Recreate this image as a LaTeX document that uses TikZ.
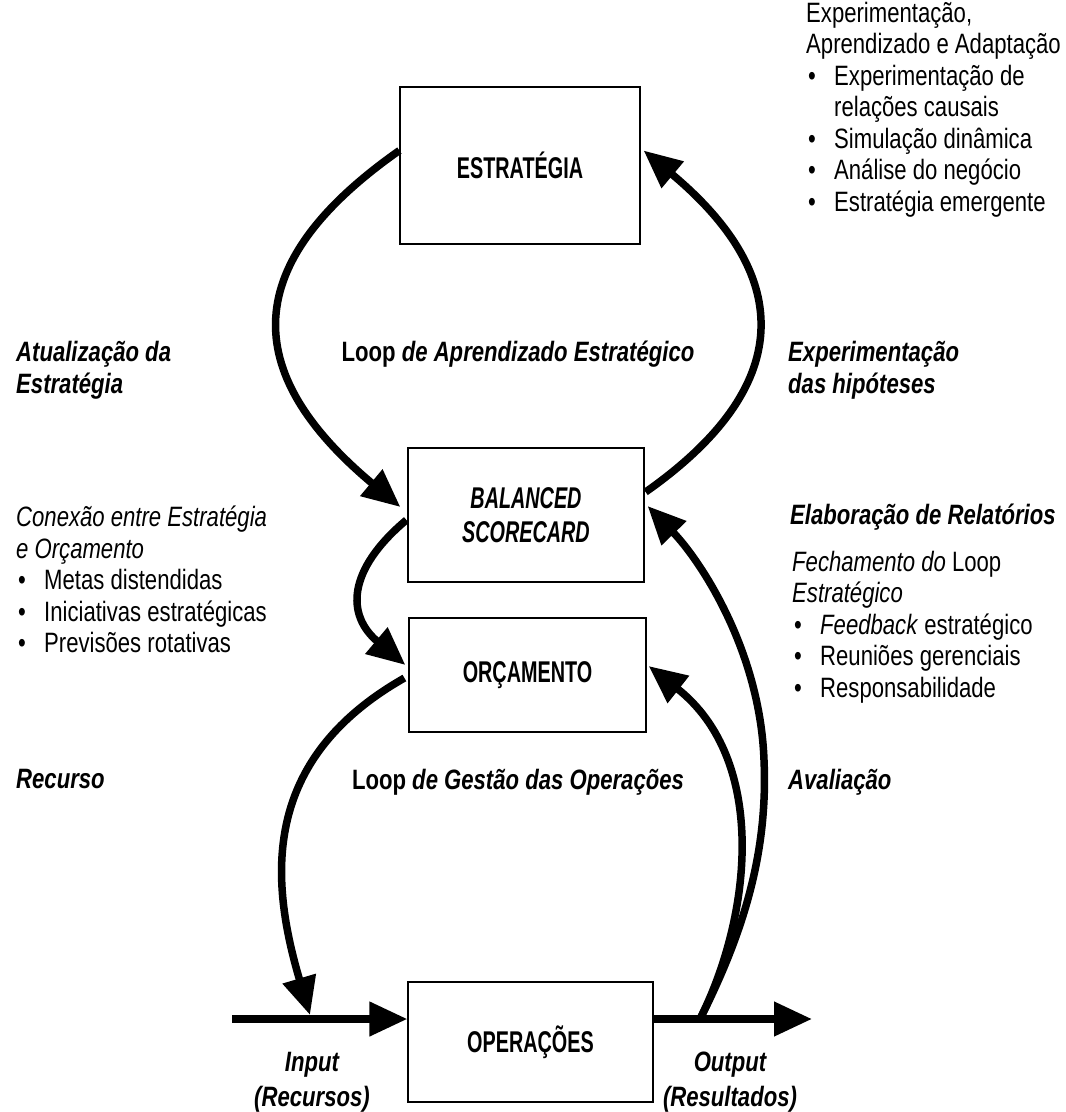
\documentclass[tikz,border=0pt]{standalone}
\usepackage{fontspec}
\setmainfont{Liberation Sans}[FakeStretch=0.79]
\newfontfamily\condbold{Liberation Sans}[FakeStretch=0.66]
\usetikzlibrary{arrows.meta,calc}

% bullet with hanging indent
\newcommand\itm{\hspace*{2pt}\makebox[26pt][l]{\textbullet}}
\newcommand\itmc{\hspace*{28pt}}

\begin{document}
\begin{tikzpicture}[x=1pt,y=-1pt,
  blk/.style={draw, line width=1.2pt, inner sep=0pt,
    font=\condbold\bfseries\fontsize{30}{34}\selectfont, align=center},
  txt/.style={inner sep=0pt, align=left, font=\fontsize{28}{31.5}\selectfont},
  lbl/.style={inner sep=0pt, align=left,
    font=\bfseries\itshape\fontsize{28}{32}\selectfont},
  flow/.style={line width=7.5pt, -{Triangle[length=38pt,width=33pt]}}]

\path[use as bounding box, fill=white] (0,0) rectangle (1066,1112);

% ---- the four stages ----
\node[blk, minimum width=240pt, minimum height=157pt] (est) at (520,165.5) {ESTRATÉGIA};
\node[blk, minimum width=236pt, minimum height=134pt] (bsc) at (526,515) {\itshape BALANCED\\[0pt]\itshape SCORECARD};
\node[blk, minimum width=237pt, minimum height=114pt] (orc) at (527.5,675) {ORÇAMENTO};
\node[blk, minimum width=245pt, minimum height=120pt] (ops) at (530.5,1042) {OPERAÇÕES};

% ---- notes and labels ----
\node[txt, anchor=north west] (learn) at (806,2)
  {Experimentação,\\Aprendizado e Adaptação\\\itm Experimentação de\\\itmc relações causais\\\itm Simulação dinâmica\\\itm Análise do negócio\\\itm Estratégia emergente};
\node[lbl, anchor=north west] (upd) at (16,341) {Atualização da\\Estratégia};
\node[lbl, anchor=north] (loopA) at (518,341) {{\upshape Loop} de Aprendizado Estratégico};
\node[lbl, anchor=north west] (test) at (788,341) {Experimentação\\das hipóteses};
\node[lbl, anchor=north west] (rep) at (790,504) {Elaboração de Relatórios};
\node[txt, anchor=north west] (close) at (792,551)
  {\textit{Fechamento do} Loop\\\textit{Estratégico}\\\itm \textit{Feedback} estratégico\\\itm Reuniões gerenciais\\\itm Responsabilidade};
\node[txt, anchor=north west] (link) at (16,506)
  {\textit{Conexão entre Estratégia}\\\textit{e Orçamento}\\\itm Metas distendidas\\\itm Iniciativas estratégicas\\\itm Previsões rotativas};
\node[lbl, anchor=north west] (res) at (16,769) {Recurso};
\node[lbl, anchor=north] (loopB) at (518,769) {{\upshape Loop} de Gestão das Operações};
\node[lbl, anchor=north west] (eval) at (788,769) {Avaliação};
\node[lbl, anchor=north, align=center, font=\bfseries\itshape\fontsize{28}{35}\selectfont] (inp) at (312,1052) {Input\\(Recursos)};
\node[lbl, anchor=north, align=center, font=\bfseries\itshape\fontsize{28}{35}\selectfont] (outp) at (730,1052) {Output\\(Resultados)};

% ---- free ends ----
\coordinate (src) at (232,1019);
\coordinate (snk) at (812,1019);
\coordinate (split) at (700,1019);
\coordinate (drop) at (310,1015);

% ---- strategic learning loop ----
\draw[flow] ($(est.west)+(0,-15)$) .. controls (239,263) and (239,372) .. ($(bsc.west)+(-7,-8)$);
\draw[flow] ($(bsc.east)+(1,-23)$) .. controls (795,387) and (795,277) .. ($(est.east)+(3,-15)$);

% ---- scorecard to budget ----
\draw[flow] ($(bsc.west)+(-1,5)$) .. controls (347,570) and (346,615) .. ($(orc.west)+(-3,-10)$);

% ---- operational loop ----
\draw[flow] ($(orc.west)+(-4,3)$) .. controls (260,760) and (270,880) .. (drop);
\draw[flow] (src) -- ($(ops.west)+(0,-23)$);
\draw[flow] ($(ops.east)+(0,-23)$) -- (snk);
\draw[flow] (split) .. controls (745,930) and (768,850) .. (764,760)
                    .. controls (760,650) and (700,560) .. ($(bsc.east)+(3,-9)$);
\draw[flow] (split) .. controls (752,915) and (768,760) .. ($(orc.east)+(2,-9)$);
\end{tikzpicture}
\end{document}
